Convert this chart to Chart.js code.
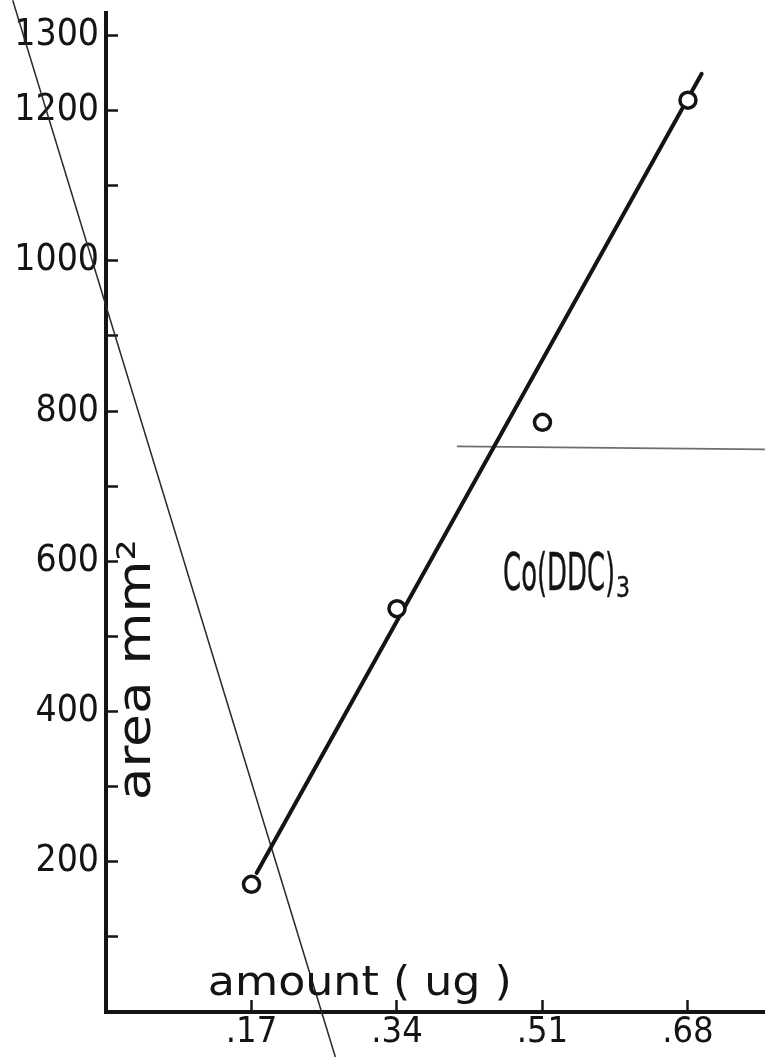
<!DOCTYPE html>
<html>
<head>
<meta charset="utf-8">
<script src="https://cdn.jsdelivr.net/npm/chart.js@4.4.0/dist/chart.umd.min.js"></script>
<style>
  html, body { margin: 0; padding: 0; background: #fff; }
  #wrap { width: 765px; height: 1057px; }
  canvas { display: block; }
</style>
</head>
<body>
<div id="wrap"><canvas id="areaChart"></canvas></div>
<script>
// Co(DDC)3 calibration: peak area against amount injected
const amounts = [0.17, 0.34, 0.51, 0.68];
const areas = [170, 537, 785, 1214];

// straight line drawn through the points by hand
const fitAmounts = [0.176, 0.696];
const fitAreas = [185, 1249];

// stray pen strokes on the sheet
const strokeAmounts = [-0.109, 0.268];
const strokeAreas = [1347, -60];
const ruleAmounts = [0.41, 0.77];
const ruleAreas = [753, 749];

const xTickValues = [0.17, 0.34, 0.51, 0.68];
const xTickLabels = ['.17', '.34', '.51', '.68'];
const yTickValues = [100, 200, 300, 400, 500, 600, 700, 800, 900, 1000, 1100, 1200, 1300];
const yTickLabels = ['', '200', '', '400', '', '600', '', '800', '', '1000', '', '1200', '1300'];

const INK = '#141414';
const LETTERING = '"DejaVu Sans Condensed", "Liberation Sans", sans-serif';

const toPoints = (xs, ys) => xs.map((x, i) => ({ x: x, y: ys[i] }));

// lettering squeezed or stretched to a given width, optionally thickened
function letter(ctx, text, x, y, width, size, angle, weight) {
  ctx.save();
  ctx.font = size + 'px ' + LETTERING;
  const k = width / ctx.measureText(text).width;
  ctx.translate(x, y);
  if (angle) ctx.rotate(angle);
  ctx.scale(k, 1);
  ctx.textAlign = 'left';
  ctx.textBaseline = 'alphabetic';
  ctx.fillText(text, 0, 0);
  if (weight) {
    ctx.lineWidth = weight;
    ctx.strokeStyle = INK;
    ctx.lineJoin = 'round';
    ctx.strokeText(text, 0, 0);
  }
  ctx.restore();
}

const lettering = {
  id: 'lettering',
  afterDatasetsDraw(chart) {
    const { ctx, scales: { x, y } } = chart;
    ctx.fillStyle = INK;
    letter(ctx, 'amount ( ug )', x.getPixelForValue(0.119), y.getPixelForValue(22), 304, 40);
    letter(ctx, 'area mm\u00b2', x.getPixelForValue(0.051), y.getPixelForValue(282), 261, 46, -Math.PI / 2);
    letter(ctx, 'Co(DDC)', x.getPixelForValue(0.464), y.getPixelForValue(562), 112, 52, 0, 0.4);
    letter(ctx, '3', x.getPixelForValue(0.596), y.getPixelForValue(552), 14, 28, 0, 0.4);
  }
};

function squeeze(scale, size) {
  if (scale.isHorizontal()) scale.height = size; else scale.width = size;
  scale.paddingTop = 0;
  scale.paddingBottom = 0;
  scale.paddingLeft = 0;
  scale.paddingRight = 0;
}

new Chart(document.getElementById('areaChart'), {
  type: 'scatter',
  data: {
    datasets: [
      {
        label: 'area',
        data: toPoints(amounts, areas),
        pointRadius: 8,
        pointBorderWidth: 3.5,
        pointBackgroundColor: '#fff',
        pointBorderColor: INK,
        order: 0
      },
      {
        type: 'line',
        label: 'fit',
        data: toPoints(fitAmounts, fitAreas),
        borderColor: INK,
        borderWidth: 4,
        borderCapStyle: 'round',
        pointRadius: 0,
        order: 1
      },
      {
        type: 'line',
        data: toPoints(strokeAmounts, strokeAreas),
        borderColor: '#2a2a2a',
        borderWidth: 1.5,
        pointRadius: 0,
        clip: false,
        order: 2
      },
      {
        type: 'line',
        data: toPoints(ruleAmounts, ruleAreas),
        borderColor: '#6e6e6e',
        borderWidth: 1.8,
        pointRadius: 0,
        clip: false,
        order: 2
      }
    ]
  },
  options: {
    responsive: true,
    maintainAspectRatio: false,
    animation: false,
    layout: { autoPadding: false, padding: { top: 13, right: 0, bottom: 0, left: 0 } },
    plugins: {
      legend: { display: false },
      tooltip: { enabled: false }
    },
    scales: {
      x: {
        type: 'linear',
        min: 0,
        max: 0.77,
        afterBuildTicks: s => { s.ticks = xTickValues.map(v => ({ value: v })); },
        afterFit: s => squeeze(s, 45),
        ticks: {
          autoSkip: false,
          maxRotation: 0,
          padding: 11,
          color: INK,
          font: { family: LETTERING, size: 36 },
          callback: (v, i) => xTickLabels[i]
        },
        grid: { drawOnChartArea: false, tickLength: -12, tickWidth: 2.5, tickColor: INK },
        border: { color: INK, width: 4 }
      },
      y: {
        type: 'linear',
        min: 0,
        max: 1330,
        afterBuildTicks: s => { s.ticks = yTickValues.map(v => ({ value: v })); },
        afterFit: s => squeeze(s, 106),
        ticks: {
          autoSkip: false,
          padding: 19,
          color: INK,
          font: { family: LETTERING, size: 37 },
          callback: (v, i) => yTickLabels[i]
        },
        grid: { drawOnChartArea: false, tickLength: -12, tickWidth: 2.5, tickColor: INK },
        border: { color: INK, width: 4 }
      }
    }
  },
  plugins: [lettering]
});
</script>
</body>
</html>
